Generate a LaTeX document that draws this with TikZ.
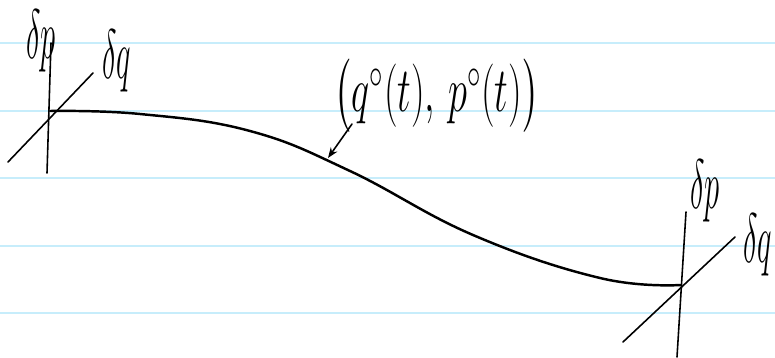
\documentclass[tikz,border=0pt]{standalone}
\usepackage{amsmath,amssymb}
\usepackage{tikz}
\usetikzlibrary{arrows.meta}

\tikzset{
  ruled/.style={cyan!22,line width=0.9pt},
  axis/.style={line width=0.9pt,line cap=round},
  orbit/.style={line width=1.4pt,line cap=round},
  lbl/.style={inner sep=0pt,font=\fontsize{24}{28}\selectfont}
}
\newcommand{\thin}[1]{\scalebox{0.7}[1.6]{#1}}

\begin{document}
\begin{tikzpicture}[x=0.02cm,y=-0.02cm]
\useasboundingbox (0,0) rectangle (775,358);
% paper lines
\foreach \y in {43,111,178,246,313}
  \draw[ruled] (0,\y) -- (775,\y);

% left frame
\coordinate (o1) at (50,111);
\coordinate (p1top) at (51,43);
\coordinate (p1bot) at (47,173);
\coordinate (q1top) at (93,73);
\coordinate (q1bot) at (8,162);
\draw[axis] (p1bot) -- (p1top);
\draw[axis] (q1bot) -- (q1top);
\node[lbl] (dp1) at (41,41) {\thin{$\delta p$}};
\node[lbl] (dq1) at (117,61) {\thin{$\delta q$}};

% right frame
\coordinate (o2) at (681,285);
\coordinate (p2top) at (686,212);
\coordinate (p2bot) at (677,357);
\coordinate (q2top) at (735,237);
\coordinate (q2bot) at (623,342);
\draw[axis] (p2bot) -- (p2top);
\draw[axis] (q2bot) -- (q2top);
\node[lbl] (dp2) at (705,191) {\thin{$\delta p$}};
\node[lbl] (dq2) at (758,245) {\thin{$\delta q$}};

% the orbit
\draw[orbit] plot[smooth,tension=0.7] coordinates {(o1) (140,114) (250,131)
  (350,171) (473,235) (600,278) (o2)};

% its label
\node[lbl] (orb) at (437,96)
  {\scalebox{0.88}[1.45]{$\bigl(q^{\circ}(t),\,p^{\circ}(t)\bigr)$}};
\coordinate (tail) at (352,124);
\coordinate (tip) at (328,158);
\draw[axis,-{Stealth[length=6pt]}] (tail) -- (tip);
\end{tikzpicture}
\end{document}
